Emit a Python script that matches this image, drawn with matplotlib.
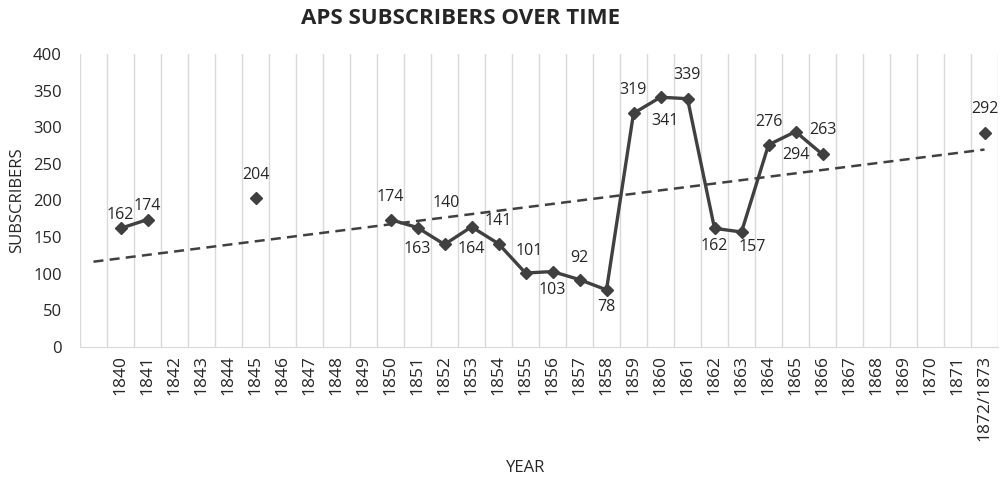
import numpy as np
import matplotlib
matplotlib.use("Agg")
import matplotlib.pyplot as plt

plt.rcParams['font.family'] = ['Open Sans', 'DejaVu Sans']

# categories (first slot is an empty category, as in the original sheet)
years = [''] + [str(y) for y in range(1840, 1872)] + ['1872/1873']

# subscribers per year (None = no data)
valores = {
    '1840': 162, '1841': 174, '1845': 204,
    '1850': 174, '1851': 163, '1852': 140, '1853': 164, '1854': 141,
    '1855': 101, '1856': 103, '1857': 92, '1858': 78, '1859': 319,
    '1860': 341, '1861': 339, '1862': 162, '1863': 157, '1864': 276,
    '1865': 294, '1866': 263, '1872/1873': 292,
}
subs = np.array([valores.get(a, np.nan) for a in years], dtype=float)

# label offsets in pixels (dx, dy) for each data label
offsets = {
    '1840': (0, 13), '1841': (0, 14), '1845': (0, 23), '1850': (0, 23),
    '1851': (0, -21), '1852': (2, 41), '1853': (0, -22), '1854': (0, 23),
    '1855': (4, 22), '1856': (0, -18), '1857': (0, 22), '1858': (0, -17),
    '1859': (0, 23), '1860': (5, -24), '1861': (0, 24), '1862': (0, -18),
    '1863': (11, -15), '1864': (0, 23), '1865': (0, -23), '1866': (0, 24),
    '1872/1873': (0, 24),
}

cor = '#404040'
cinza = '#d9d9d9'

fig = plt.figure(figsize=(10.02, 4.84), dpi=100)
ax = fig.add_axes([80 / 1002, 137 / 484, 918 / 1002, 293 / 484])

x = np.arange(len(years))

# grade vertical nas bordas das categorias
for b in np.arange(-0.5, len(years), 1):
    ax.axvline(b, color=cinza, lw=1, zorder=0)

# serie principal
ax.plot(x, subs, color=cor, lw=2.4, marker='D', markersize=6, zorder=3)

# linha de tendencia linear
ok = ~np.isnan(subs)
coef = np.polyfit(x[ok], subs[ok], 1)
ax.plot(x, np.polyval(coef, x), color=cor, lw=1.8, ls=(0, (4, 2.5)), zorder=2)

# rotulos de dados
for i, a in enumerate(years):
    if a in valores:
        dx, dy = offsets[a]
        ax.annotate(str(valores[a]), (i, subs[i]), xytext=(dx, dy),
                    textcoords='offset pixels', ha='center', va='center',
                    fontsize=11.5, color='#262626', zorder=4)

ax.set_xlim(-0.5, len(years) - 0.5)
ax.set_ylim(0, 400)
ax.set_yticks(np.arange(0, 401, 50))
ax.set_xticks(x)
ax.set_xticklabels(years, rotation=90, fontsize=12.5, color='#262626')
ax.tick_params(axis='y', length=0, pad=13, labelsize=12, labelcolor='#262626')
ax.tick_params(axis='x', length=0, pad=6)

for lado in ['top', 'right', 'left']:
    ax.spines[lado].set_visible(False)
ax.spines['bottom'].set_color(cinza)

ax.set_ylabel('SUBSCRIBERS', fontsize=12, color='#262626', labelpad=6)
fig.text(526 / 1002, 1 - 468 / 484, 'YEAR', fontsize=12, color='#262626',
         ha='center', va='center')
fig.text(461 / 1002, 1 - 19 / 484, 'APS SUBSCRIBERS OVER TIME', fontsize=16,
         fontweight='bold', color='#262626', ha='center', va='center')

fig.savefig('out.png', dpi=100)
